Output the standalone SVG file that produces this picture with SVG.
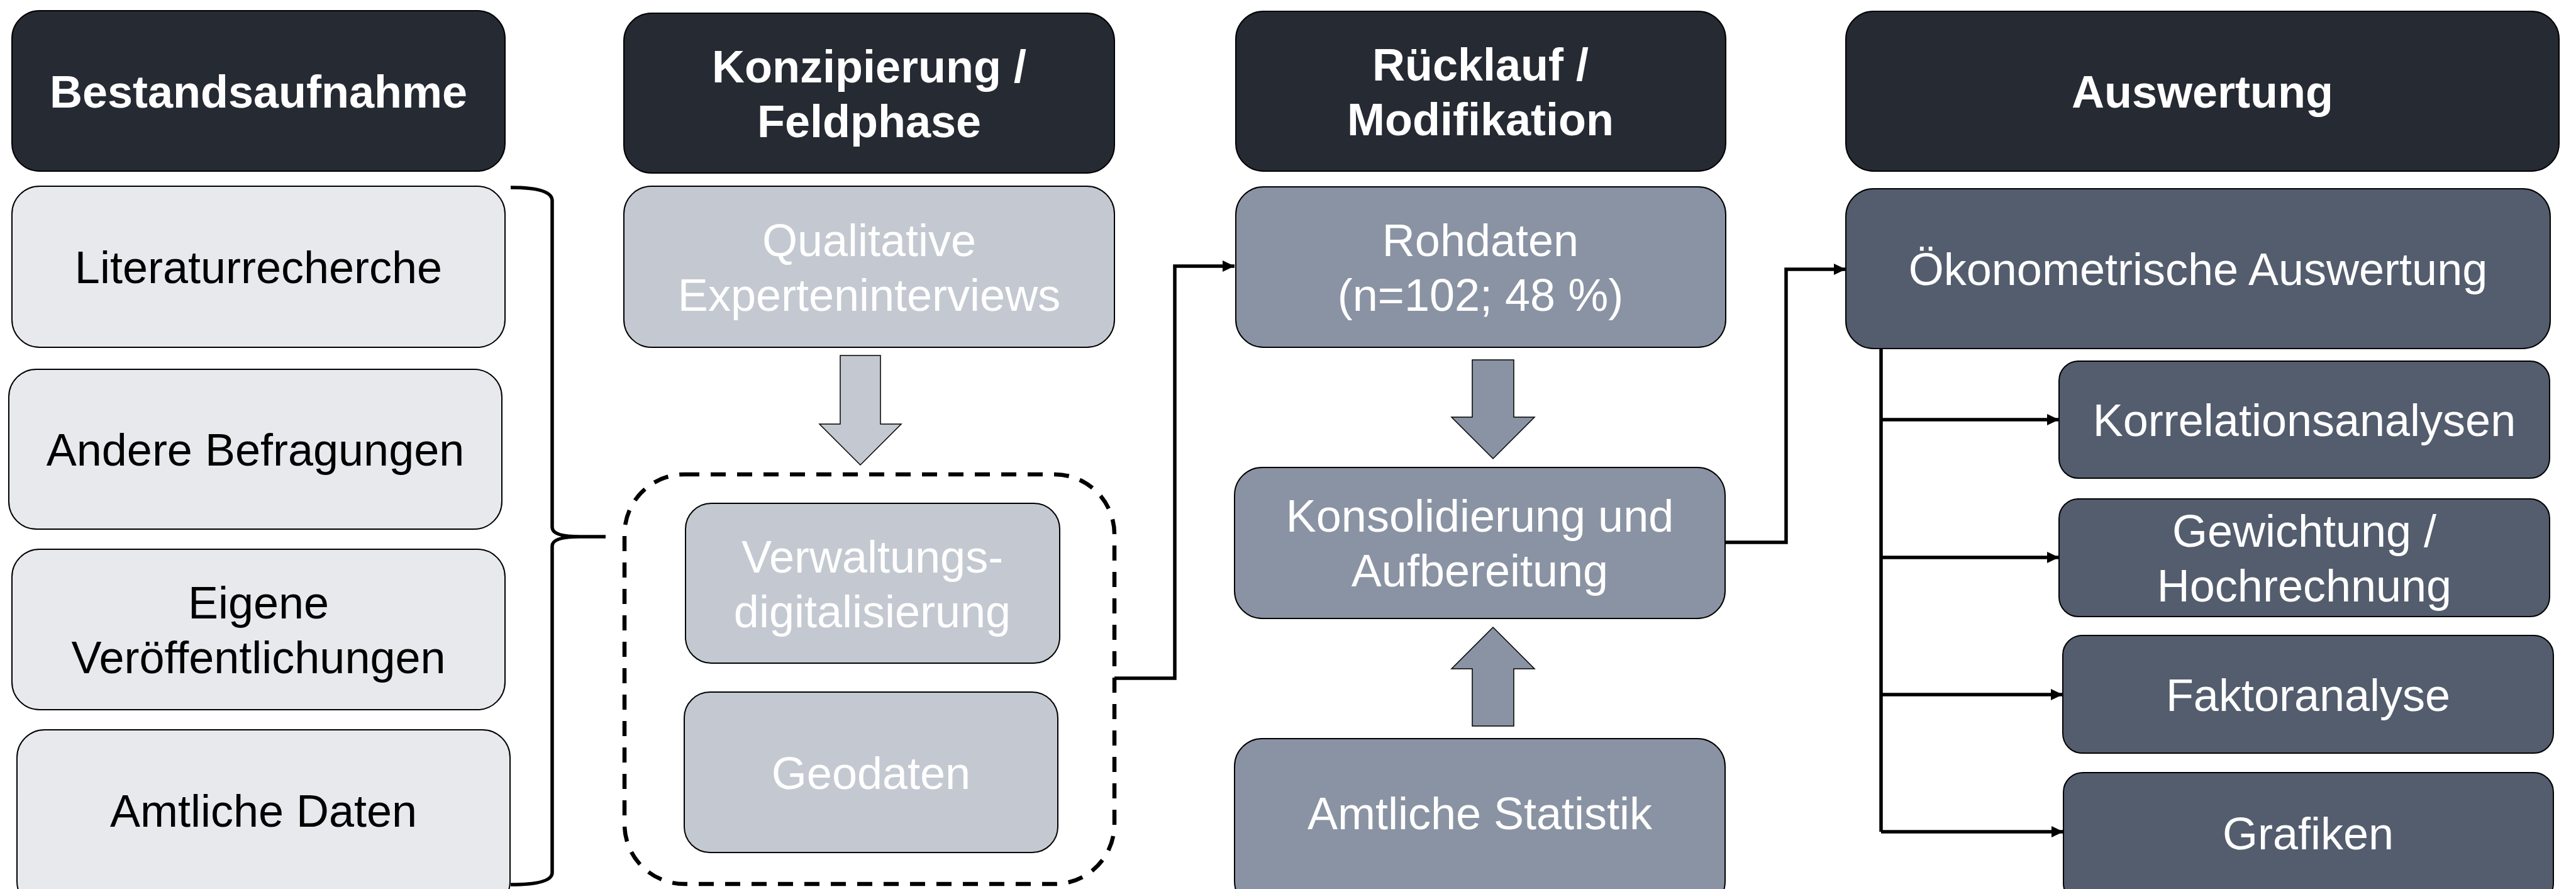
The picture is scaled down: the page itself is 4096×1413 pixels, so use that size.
<svg xmlns="http://www.w3.org/2000/svg" width="4096" height="1413" viewBox="0 0 4096 1413">
<defs>
<style>
.box{stroke:#000;stroke-width:2}
.hdr{fill:#262A32}
.c1{fill:#E8E9ED}
.c2{fill:#C4C9D1}
.c3{fill:#8A93A3}
.c4{fill:#535D6E}
text{font-family:"Liberation Sans",Arial,sans-serif;font-size:72px;text-anchor:middle}
.ht{font-weight:bold;fill:#fff}
.wt{fill:#fff}
.bt{fill:#000}
.conn{fill:none;stroke:#000;stroke-width:5.5}
.blk{stroke:#000;stroke-width:1.5}
</style>
<marker id="ah" markerUnits="userSpaceOnUse" markerWidth="20" markerHeight="18" refX="19" refY="9" orient="auto">
<path d="M0,0 L19,9 L0,18 z" fill="#000"/>
</marker>
</defs>
<rect width="4096" height="1413" fill="#fff"/>

<g id="connectors">
<path class="conn" d="M812 298 Q878 298 878 319 L878 838 Q878 853 922 853 L963 853 M922 853 Q878 853 878 868 L878 1387 Q878 1406 812 1406"/>
<polyline class="conn" points="1772,1078 1868,1078 1868,423 1963,423" marker-end="url(#ah)"/>
<polyline class="conn" points="2743,862 2840,862 2840,428 2935,428" marker-end="url(#ah)"/>
<polyline class="conn" points="2991,554 2991,1322"/>
<line class="conn" x1="2991" y1="667" x2="3274" y2="667" marker-end="url(#ah)"/>
<line class="conn" x1="2991" y1="886" x2="3274" y2="886" marker-end="url(#ah)"/>
<line class="conn" x1="2991" y1="1104" x2="3280" y2="1104" marker-end="url(#ah)"/>
<line class="conn" x1="2991" y1="1322" x2="3281" y2="1322" marker-end="url(#ah)"/>
<polygon class="blk c2" points="1336,565 1400,565 1400,674 1433,674 1368,739 1303,674 1336,674"/>
<polygon class="blk c3" points="2341,572 2407,572 2407,663 2440,663 2374,729 2308,663 2341,663"/>
<polygon class="blk c3" points="2341,1154 2407,1154 2407,1063 2440,1063 2374,997 2308,1063 2341,1063"/>
</g>

<g id="h1"><rect class="box hdr" x="19" y="17" width="784" height="255" rx="44"/><text class="ht" x="411" y="171">Bestandsaufnahme</text></g>
<g id="n-literatur"><rect class="box c1" x="19" y="296" width="784" height="256" rx="44"/><text class="bt" x="411" y="450">Literaturrecherche</text></g>
<g id="n-andere"><rect class="box c1" x="14" y="587" width="784" height="254" rx="44"/><text class="bt" x="406" y="740">Andere Befragungen</text></g>
<g id="n-eigene"><rect class="box c1" x="19" y="873" width="784" height="255" rx="44"/><text class="bt" x="411" y="983">Eigene</text><text class="bt" x="411" y="1070">Veröffentlichungen</text></g>
<g id="n-amtdaten"><rect class="box c1" x="27" y="1160" width="784" height="285" rx="44"/><text class="bt" x="419" y="1314">Amtliche Daten</text></g>

<g id="h2"><rect class="box hdr" x="992" y="21" width="780" height="254" rx="44"/><text class="ht" x="1382" y="131">Konzipierung /</text><text class="ht" x="1382" y="218">Feldphase</text></g>
<g id="n-qual"><rect class="box c2" x="992" y="296" width="780" height="256" rx="44"/><text class="wt" x="1382" y="407">Qualitative</text><text class="wt" x="1382" y="494">Experteninterviews</text></g>
<g id="grp-dashed"><rect x="993" y="754" width="779" height="651" rx="95" fill="none" stroke="#000" stroke-width="6.5" stroke-dasharray="24 18"/></g>
<g id="n-verw"><rect class="box c2" x="1090" y="800" width="595" height="254" rx="41"/><text class="wt" x="1387" y="910">Verwaltungs-</text><text class="wt" x="1387" y="997">digitalisierung</text></g>
<g id="n-geo"><rect class="box c2" x="1088" y="1100" width="594" height="255" rx="41"/><text class="wt" x="1385" y="1254">Geodaten</text></g>

<g id="h3"><rect class="box hdr" x="1965" y="18" width="779" height="254" rx="44"/><text class="ht" x="2354" y="128">Rücklauf /</text><text class="ht" x="2354" y="215">Modifikation</text></g>
<g id="n-roh"><rect class="box c3" x="1965" y="297" width="779" height="255" rx="44"/><text class="wt" x="2354" y="407">Rohdaten</text><text class="wt" x="2354" y="494">(n=102; 48 %)</text></g>
<g id="n-kons"><rect class="box c3" x="1963" y="743" width="780" height="240" rx="44"/><text class="wt" x="2353" y="845">Konsolidierung und</text><text class="wt" x="2353" y="932">Aufbereitung</text></g>
<g id="n-amtstat"><rect class="box c3" x="1963" y="1174" width="780" height="271" rx="44"/><text class="wt" x="2353" y="1318">Amtliche Statistik</text></g>

<g id="h4"><rect class="box hdr" x="2935" y="18" width="1134" height="254" rx="44"/><text class="ht" x="3502" y="171">Auswertung</text></g>
<g id="n-oeko"><rect class="box c4" x="2935" y="300" width="1120" height="254" rx="44"/><text class="wt" x="3495" y="453">Ökonometrische Auswertung</text></g>
<g id="n-korr"><rect class="box c4" x="3274" y="574" width="780" height="186" rx="31"/><text class="wt" x="3664" y="693">Korrelationsanalysen</text></g>
<g id="n-gew"><rect class="box c4" x="3274" y="793" width="780" height="187" rx="31"/><text class="wt" x="3664" y="869">Gewichtung /</text><text class="wt" x="3664" y="956">Hochrechnung</text></g>
<g id="n-fakt"><rect class="box c4" x="3280" y="1010" width="780" height="187" rx="31"/><text class="wt" x="3670" y="1130">Faktoranalyse</text></g>
<g id="n-graf"><rect class="box c4" x="3281" y="1228" width="779" height="207" rx="31"/><text class="wt" x="3670" y="1350">Grafiken</text></g>
</svg>
